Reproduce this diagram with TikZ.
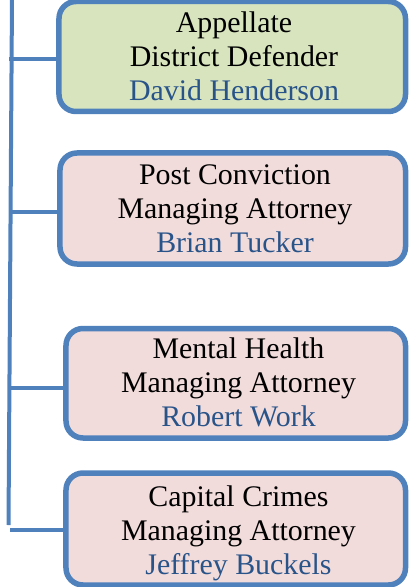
\documentclass[tikz,border=0pt]{standalone}
\usepackage{fontspec}
\setmainfont{Liberation Serif}
\definecolor{edgeblue}{RGB}{79,129,189}
\definecolor{namecol}{RGB}{41,84,138}
\definecolor{greenfill}{RGB}{215,228,189}
\definecolor{pinkfill}{RGB}{242,220,219}
\tikzset{
  orgbox/.style={draw=edgeblue, line width=5.5bp, rounded corners=17bp, inner sep=0pt},
  orgtext/.style={align=center, font=\fontsize{30}{34}\selectfont, inner sep=0pt},
  link/.style={draw=edgeblue, line width=4bp}
}
\newcommand{\pname}[1]{\textcolor{namecol}{#1}}
\begin{document}
\begin{tikzpicture}[x=1bp,y=-1bp]
\useasboundingbox (0,0) rectangle (411,587);
% boxes
\node[orgbox, fill=greenfill, minimum width=346.5bp, minimum height=110bp] (b1) at (232.25,56.5) {};
\node[orgbox, fill=pinkfill, minimum width=345.5bp, minimum height=111bp] (b2) at (232.75,208.5) {};
\node[orgbox, fill=pinkfill, minimum width=339.5bp, minimum height=109.5bp] (b3) at (235.75,383.25) {};
\node[orgbox, fill=pinkfill, minimum width=339.5bp, minimum height=112bp] (b4) at (235.75,529) {};
% texts
\node[orgtext] (t1) at ([xshift=1.75bp,yshift=-3.5bp]b1.center) {\strut Appellate\\\strut District Defender\\\strut\pname{David Henderson}};
\node[orgtext] (t2) at ([xshift=2.25bp,yshift=-3bp]b2.center) {\strut Post Conviction\\\strut Managing Attorney\\\strut\pname{Brian Tucker}};
\node[orgtext] (t3) at ([xshift=2.75bp,yshift=-2.25bp]b3.center) {\strut Mental Health\\\strut Managing Attorney\\\strut\pname{Robert Work}};
\node[orgtext] (t4) at ([xshift=2.75bp,yshift=-4.5bp]b4.center) {\strut Capital Crimes\\\strut Managing Attorney\\\strut\pname{Jeffrey Buckels}};
% trunk
\coordinate (top) at (12,-2);
\coordinate (bot) at (8.5,525);
\draw[link] (top) -- (bot);
% branches
\coordinate (j1) at (9,59.5);
\coordinate (j2) at (12,212);
\coordinate (j3) at (11,388);
\coordinate (j4) at (10,530);
\draw[link] (j1) -- (j1 -| b1.west);
\draw[link] (j2) -- (j2 -| b2.west);
\draw[link] (j3) -- ([xshift=5bp]j3 -| b3.west);
\draw[link] (j4) -- (j4 -| b4.west);
\end{tikzpicture}
\end{document}
